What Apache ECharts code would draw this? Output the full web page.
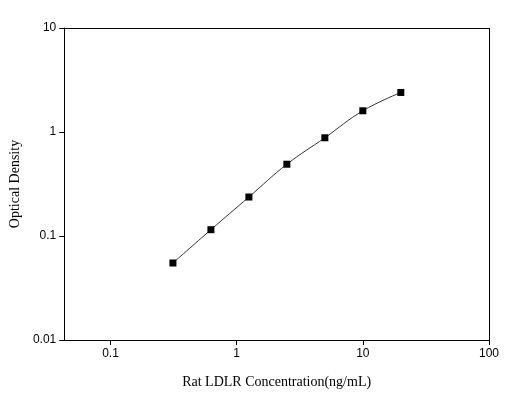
<!DOCTYPE html>
<html><head><meta charset="utf-8">
<script src="https://cdn.jsdelivr.net/npm/echarts@6/dist/echarts.min.js"></script>
<style>html,body{margin:0;padding:0;background:#fff}#c{width:520px;height:403px}</style>
</head><body><div id="c"></div>
<script>
const concentrations = [0.3125, 0.625, 1.25, 2.5, 5, 10, 20];
const densities = [0.055, 0.115, 0.237, 0.49, 0.88, 1.6, 2.4];
const xTickValues = [0.1, 1, 10, 100];
const yTickLabels = ['0.01', '0.1', '1', '10'];

const pts = concentrations.map((c, i) => [Math.log10(c), densities[i]]);
const chart = echarts.init(document.getElementById('c'));
const tickFont = {fontFamily: 'Liberation Sans, Arial', fontSize: 12, color: '#000'};
const xMin = Math.log10(0.043);
chart.setOption({
  animation: false,
  grid: {left: 57, right: 31, top: 28, bottom: 63},
  xAxis: {
    type: 'value', min: xMin, max: 2,
    name: 'Rat LDLR Concentration(ng/mL)', nameLocation: 'middle', nameGap: 35,
    nameTextStyle: {fontFamily: 'Liberation Serif', fontSize: 14, color: '#000'},
    axisLine: {onZero: false, lineStyle: {color: '#000'}},
    axisTick: {show: true, inside: false, length: 5, customValues: xTickValues.map(v => Math.log10(v)), lineStyle: {color: '#000'}},
    axisLabel: Object.assign({customValues: xTickValues.map(v => Math.log10(v)), formatter: v => String(xTickValues.find(t => Math.abs(Math.log10(t) - v) < 1e-6)), margin: 8}, tickFont),
    splitLine: {show: false}
  },
  yAxis: {
    type: 'log', logBase: 10, min: 0.01, max: 10,
    name: 'Optical Density', nameLocation: 'middle', nameGap: 36,
    nameTextStyle: {fontFamily: 'Liberation Serif', fontSize: 14, color: '#000'},
    axisLine: {onZero: false, lineStyle: {color: '#000'}},
    axisTick: {show: true, inside: false, length: 5, lineStyle: {color: '#000'}},
    axisLabel: Object.assign({formatter: v => { const s = yTickLabels.find(t => Math.abs(parseFloat(t) - v) < 1e-9 * Math.max(1, v)); return s || String(v); }, margin: 8}, tickFont),
    splitLine: {show: false}
  },
  series: [
    {type: 'line', data: pts, smooth: 0.4, showSymbol: false, lineStyle: {color: '#333', width: 1}, z: 1},
    {type: 'scatter', data: pts, symbol: 'rect', symbolSize: 7, itemStyle: {color: '#000', opacity: 1}, z: 2},
    {type: 'line', data: [], markLine: {silent: true, symbol: 'none', label: {show: false}, lineStyle: {color: '#000', type: 'solid', width: 1},
      data: [[{coord: [xMin, 10]}, {coord: [2, 10]}], [{coord: [2, 0.01]}, {coord: [2, 10]}]]}}
  ]
});
</script></body></html>
